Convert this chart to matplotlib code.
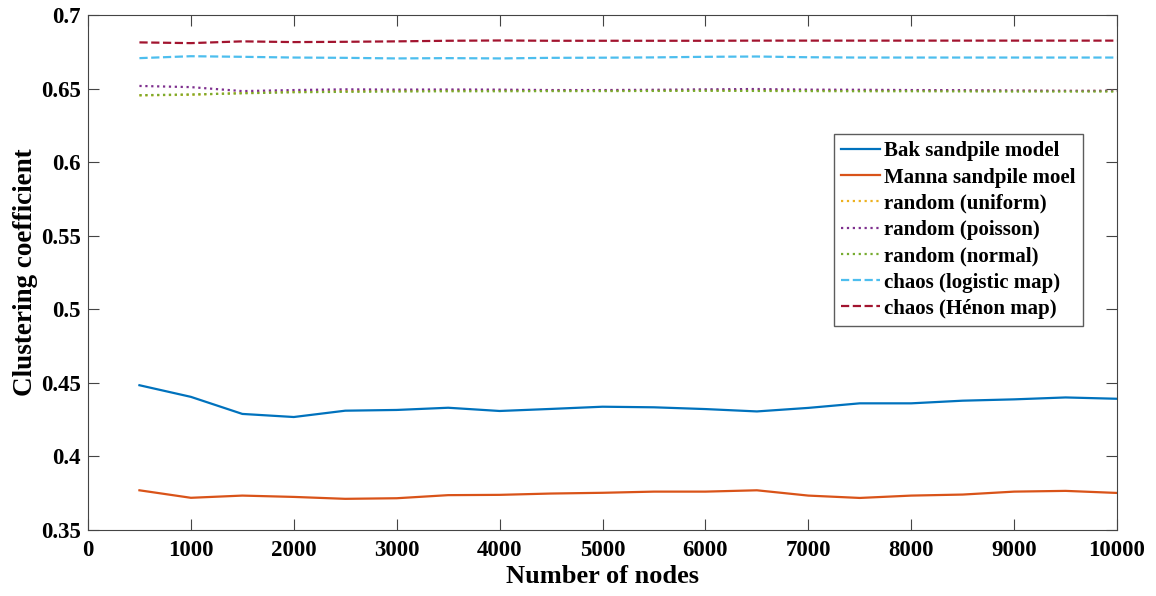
import numpy as np
import matplotlib.pyplot as plt

plt.rcParams['font.family'] = ['Liberation Serif', 'DejaVu Serif']
plt.rcParams['font.weight'] = 'bold'

nodes = np.arange(500, 10001, 500)

bak = [0.4484, 0.4405, 0.4289, 0.4268, 0.4311, 0.4316, 0.4331, 0.4309, 0.4323, 0.4338,
       0.4334, 0.4322, 0.4306, 0.4330, 0.4361, 0.4361, 0.4379, 0.4388, 0.4401, 0.4392]
manna = [0.3770, 0.3719, 0.3734, 0.3725, 0.3712, 0.3716, 0.3737, 0.3739, 0.3748, 0.3753,
         0.3761, 0.3761, 0.3770, 0.3734, 0.3718, 0.3734, 0.3741, 0.3761, 0.3766, 0.3752]
uniform = [0.6454, 0.6458, 0.6470, 0.6478, 0.6483, 0.6485, 0.6487, 0.6488, 0.6488, 0.6487,
           0.6488, 0.6489, 0.6489, 0.6488, 0.6487, 0.6487, 0.6486, 0.6485, 0.6484, 0.6484]
poisson = [0.6518, 0.6510, 0.6483, 0.6490, 0.6495, 0.6493, 0.6494, 0.6493, 0.6490, 0.6490,
           0.6492, 0.6495, 0.6497, 0.6493, 0.6492, 0.6490, 0.6489, 0.6487, 0.6485, 0.6485]
normal = [0.6455, 0.6460, 0.6468, 0.6475, 0.6478, 0.6480, 0.6482, 0.6482, 0.6483, 0.6483,
          0.6484, 0.6485, 0.6484, 0.6483, 0.6482, 0.6482, 0.6481, 0.6480, 0.6480, 0.6480]
logistic = [0.6707, 0.6720, 0.6716, 0.6711, 0.6709, 0.6705, 0.6707, 0.6705, 0.6709, 0.6710,
            0.6712, 0.6716, 0.6718, 0.6713, 0.6711, 0.6711, 0.6711, 0.6711, 0.6711, 0.6711]
henon = [0.6814, 0.6809, 0.6821, 0.6816, 0.6818, 0.6821, 0.6825, 0.6827, 0.6825, 0.6825,
         0.6825, 0.6825, 0.6826, 0.6826, 0.6826, 0.6826, 0.6826, 0.6826, 0.6826, 0.6826]

fig = plt.figure(figsize=(11.56, 5.96), dpi=100)
ax = fig.add_axes([0.0761, 0.1107, 0.8902, 0.8641])

ax.plot(nodes, bak, '-', color='#0072BD', lw=1.6, label='Bak sandpile model')
ax.plot(nodes, manna, '-', color='#D95319', lw=1.6, label='Manna sandpile moel')
ax.plot(nodes, uniform, ':', color='#EDB120', lw=1.6, label='random (uniform)')
ax.plot(nodes, poisson, ':', color='#7E2F8E', lw=1.6, label='random (poisson)')
ax.plot(nodes, normal, ':', color='#77AC30', lw=1.6, label='random (normal)')
ax.plot(nodes, logistic, '--', color='#4DBEEE', lw=1.6, label='chaos (logistic map)')
ax.plot(nodes, henon, '--', color='#A2142F', lw=1.6, label='chaos (Hénon map)')

ax.set_xlim(0, 10000)
ax.set_ylim(0.35, 0.7)
ax.set_xticks(np.arange(0, 10001, 1000))
ax.set_yticks(np.arange(0.35, 0.701, 0.05))
ax.set_yticklabels(['0.35', '0.4', '0.45', '0.5', '0.55', '0.6', '0.65', '0.7'])
ax.tick_params(direction='in', top=True, right=True, labelsize=16.5, length=8, color='#444444')
ax.tick_params(axis='x', pad=7)
ax.tick_params(axis='y', pad=5)
for s in ax.spines.values():
    s.set_color('#444444')

ax.set_xlabel('Number of nodes', fontsize=19, fontweight='bold', labelpad=3)
ax.set_ylabel('Clustering coefficient', fontsize=19.5, fontweight='bold', labelpad=2)

leg = ax.legend(loc='upper right', bbox_to_anchor=(0.9665, 0.769), fontsize=15,
                frameon=True, fancybox=False, edgecolor='#333333', handlelength=1.85,
                handletextpad=0.2, borderpad=0.35, labelspacing=0.3, borderaxespad=0)
leg.get_frame().set_linewidth(1)

plt.savefig('out.png', dpi=100)
